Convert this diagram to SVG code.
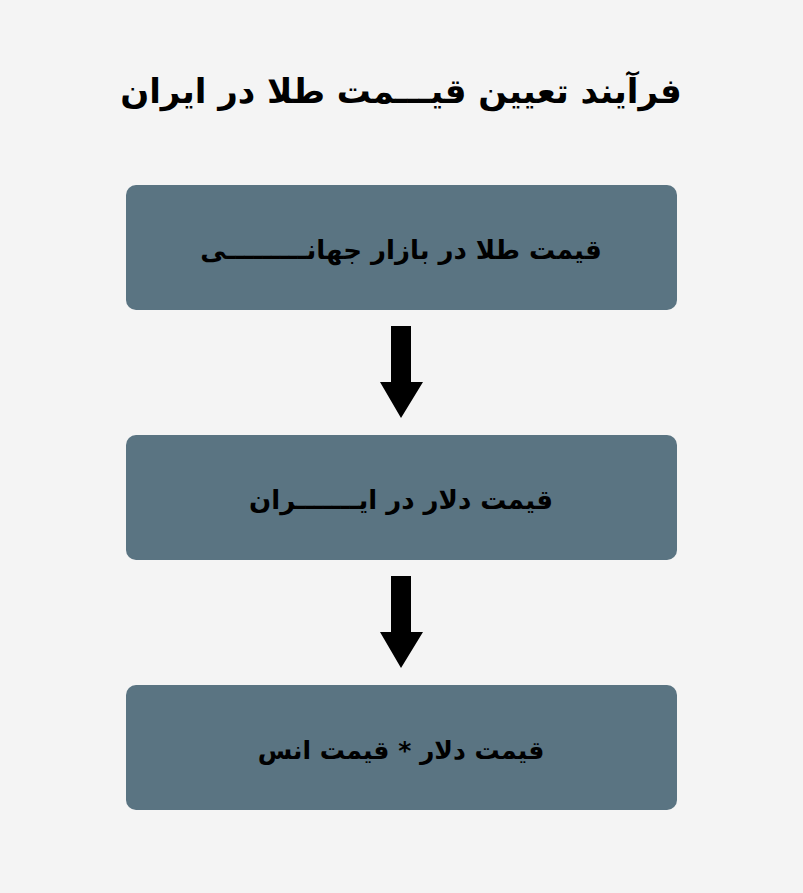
<svg xmlns="http://www.w3.org/2000/svg" width="803" height="893" viewBox="0 0 803 893">
<style>
.box{fill:#5a7482}
.t{font-family:"DejaVu Sans","Noto Sans",sans-serif;font-weight:bold;fill:#000;text-anchor:middle;font-size:26px}
.arr{fill:#000}
</style>
<rect width="803" height="893" fill="#f4f4f4"/>
<text class="t" x="401" y="103" style="font-size:34px" direction="rtl">فرآیند تعیین قیـــمت طلا در ایران</text>
<g id="node1">
<rect class="box" x="126" y="185" width="551" height="125" rx="10"/>
<text class="t" x="401" y="259" direction="rtl">قیمت طلا در بازار جهانـــــــــی</text>
</g>
<g id="node2">
<rect class="box" x="126" y="435" width="551" height="125" rx="10"/>
<text class="t" x="401" y="509" direction="rtl">قیمت دلار در ایـــــــران</text>
</g>
<g id="node3">
<rect class="box" x="126" y="685" width="551" height="125" rx="10"/>
<text class="t" x="401" y="759" style="font-size:25px" direction="rtl">قیمت دلار * قیمت انس</text>
</g>
<g id="connectors">
<polygon class="arr" points="391,326 411,326 411,382 423,382 401,418 380,382 391,382"/>
<polygon class="arr" points="391,576 411,576 411,632 423,632 401,668 380,632 391,632"/>
</g>
</svg>
